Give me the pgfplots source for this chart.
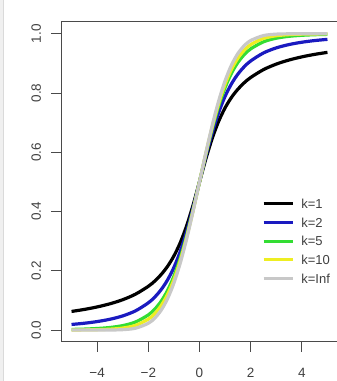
\documentclass[border=0pt]{standalone}
\usepackage{fontspec}
\setmainfont{Liberation Sans}
\usepackage{pgfplots}
\pgfplotsset{compat=1.18}
\usepackage{pgfplotstable}
\definecolor{rblue}{HTML}{1A1AC0}
\definecolor{rgreen}{HTML}{33DD33}
\definecolor{ryellow}{HTML}{EEEE22}
\definecolor{rgray}{HTML}{C8C8C8}
\definecolor{axgray}{HTML}{4A4A4A}
\definecolor{labgray}{HTML}{404040}
\definecolor{bgstrip}{HTML}{F0F0F0}
\definecolor{edge}{HTML}{DADADA}
\pgfplotstableread{
x     k1     k2     k5     k10    kinf
-5    0.0628 0.0189 0.0021 0.0003 0.0000
-4.5  0.0696 0.0230 0.0032 0.0006 0.0000
-4    0.0780 0.0286 0.0052 0.0013 0.00003
-3.5  0.0886 0.0364 0.0086 0.0029 0.0002
-3    0.1024 0.0477 0.0150 0.0067 0.0013
-2.5  0.1211 0.0648 0.0272 0.0157 0.0062
-2    0.1476 0.0918 0.0510 0.0367 0.0228
-1.75 0.1652 0.1111 0.0703 0.0553 0.0401
-1.5  0.1872 0.1362 0.0969 0.0823 0.0668
-1.25 0.2148 0.1689 0.1333 0.1199 0.1056
-1    0.2500 0.2113 0.1816 0.1704 0.1587
-0.75 0.2952 0.2657 0.2435 0.2353 0.2266
-0.5  0.3524 0.3333 0.3191 0.3139 0.3085
-0.25 0.4220 0.4130 0.4063 0.4038 0.4013
0     0.5000 0.5000 0.5000 0.5000 0.5000
0.25  0.5780 0.5870 0.5937 0.5962 0.5987
0.5   0.6476 0.6667 0.6809 0.6861 0.6915
0.75  0.7048 0.7343 0.7565 0.7647 0.7734
1     0.7500 0.7887 0.8184 0.8296 0.8413
1.25  0.7852 0.8311 0.8667 0.8801 0.8944
1.5   0.8128 0.8638 0.9031 0.9177 0.9332
1.75  0.8348 0.8889 0.9297 0.9447 0.9599
2     0.8524 0.9082 0.9490 0.9633 0.9772
2.5   0.8789 0.9352 0.9728 0.9843 0.9938
3     0.8976 0.9523 0.9850 0.9933 0.9987
3.5   0.9114 0.9636 0.9914 0.9971 0.9998
4     0.9220 0.9714 0.9948 0.9987 1.0000
4.5   0.9304 0.9770 0.9968 0.9994 1.0000
5     0.9372 0.9811 0.9979 0.9997 1.0000
}\datatable
\begin{document}
\begin{tikzpicture}
\useasboundingbox (-61.3pt,-39.1pt) rectangle (275.7pt,341.9pt);
\fill[white] (-61.3pt,-39.1pt) rectangle (275.7pt,341.9pt);
\fill[bgstrip] (-61.3pt,-39.1pt) rectangle (-57.8pt,341.9pt);
\draw[edge, line width=0.8pt] (-57.4pt,-39.1pt) -- (-57.4pt,341.9pt);
\begin{axis}[
  at={(0pt,0pt)}, anchor=south west,
  scale only axis, width=276.4pt, height=320pt,
  xmin=-5.4, xmax=5.4, ymin=-0.04, ymax=1.04,
  axis line style={axgray, line width=0.9pt},
  tick align=outside, major tick length=10pt,
  tick style={axgray, line width=0.9pt},
  xtick pos=lower, ytick pos=left,
  xtick={-4,-2,0,2,4}, xticklabels={−4,−2,0,2,4},
  ytick={0,0.2,0.4,0.6,0.8,1.0}, yticklabels={0.0,0.2,0.4,0.6,0.8,1.0},
  /pgf/number format/assume math mode=true,
  ticklabel style={font=\fontsize{13.5}{15}\selectfont, text=labgray},
  xticklabel style={anchor=north, inner sep=0pt, text height=9.5pt, text depth=0pt},
  yticklabel style={rotate=90, anchor=south, inner sep=0pt, text height=9.5pt, text depth=0pt},
  xticklabel shift=16pt, yticklabel shift=10.3pt,
  legend cell align=left,
  legend image code/.code={\draw[#1, line width=3.2pt] (0pt,0pt) -- (29pt,0pt);},
  legend style={draw=none, fill=none, at={(axis cs:2.44,0.443)}, anchor=north west,
    inner sep=0pt, row sep=9.2pt,
    font=\fontsize{13}{15}\selectfont, text=labgray,
    nodes={inner sep=0pt, text height=9.5pt, text depth=0pt},
    /tikz/every odd column/.append style={column sep=7pt}},
]
\addplot[black, line width=3.2pt, smooth] table[x=x, y=k1] {\datatable};
\addlegendentry{k=1}
\addplot[rblue, line width=3.2pt, smooth] table[x=x, y=k2] {\datatable};
\addlegendentry{k=2}
\addplot[rgreen, line width=3.2pt, smooth] table[x=x, y=k5] {\datatable};
\addlegendentry{k=5}
\addplot[ryellow, line width=3.2pt, smooth] table[x=x, y=k10] {\datatable};
\addlegendentry{k=10}
\addplot[rgray, line width=3.2pt, smooth] table[x=x, y=kinf] {\datatable};
\addlegendentry{k=Inf}
\end{axis}
\end{tikzpicture}
\end{document}
